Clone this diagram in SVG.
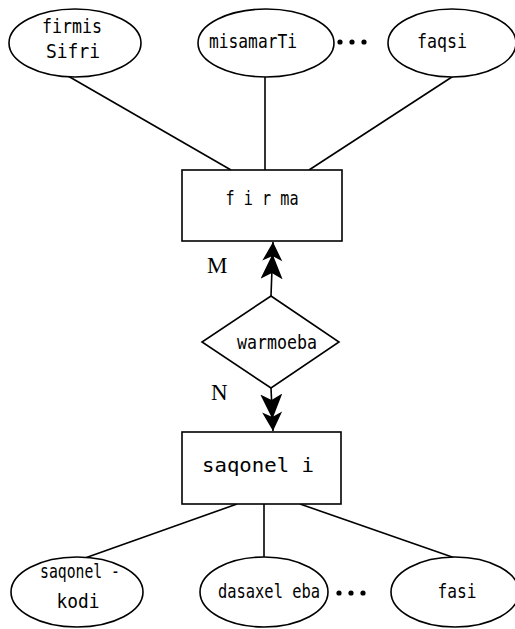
<svg xmlns="http://www.w3.org/2000/svg" width="515" height="629" viewBox="0 0 515 629">
<style>
.s{fill:#fff;stroke:#000;stroke-width:1.6}
.l{stroke:#000;stroke-width:1.6;fill:none}
.t{font-family:"DejaVu Sans Mono",monospace;font-size:20px;fill:#000;text-anchor:middle}
.r{font-family:"Liberation Serif",serif;font-size:23px;fill:#000}
</style>
<defs>
<marker id="dbl" viewBox="0 0 37 22" refX="37" refY="11" markerWidth="37" markerHeight="22" markerUnits="userSpaceOnUse" orient="auto">
<path d="M37,11 L18,1 L23,11 L18,21 Z M25,11 L0,0 L6,11 L0,22 Z" fill="#000"/>
</marker>
</defs>
<rect width="515" height="629" fill="#fff"/>
<g id="connectors">
<line class="l" x1="68" y1="76" x2="231" y2="170"/>
<line class="l" x1="265" y1="77" x2="265" y2="170"/>
<line class="l" x1="455" y1="75" x2="309" y2="170"/>
<line class="l" x1="271" y1="296" x2="273" y2="242" marker-end="url(#dbl)"/>
<line class="l" x1="271" y1="388" x2="273" y2="431" marker-end="url(#dbl)"/>
<line class="l" x1="237" y1="504" x2="85" y2="558"/>
<line class="l" x1="264" y1="504" x2="264" y2="557"/>
<line class="l" x1="300" y1="504" x2="455" y2="558"/>
</g>
<g id="firmis-Sifri"><ellipse class="s" cx="75" cy="43" rx="66" ry="34"/><text class="t" x="72" y="33" textLength="60" lengthAdjust="spacingAndGlyphs">firmis</text><text class="t" x="73" y="58" textLength="54" lengthAdjust="spacingAndGlyphs">Sifri</text></g>
<g id="misamarTi"><ellipse class="s" cx="266" cy="43" rx="68" ry="34"/><text class="t" x="253" y="48" font-size="18" textLength="88" lengthAdjust="spacingAndGlyphs">misamarTi</text></g>
<g id="dots1"><circle cx="340" cy="42" r="2.6"/><circle cx="352" cy="42" r="2.6"/><circle cx="364" cy="42" r="2.6"/></g>
<g id="faqsi"><ellipse class="s" cx="452" cy="43" rx="64" ry="34"/><text class="t" x="442" y="48" font-size="18" textLength="50" lengthAdjust="spacingAndGlyphs">faqsi</text></g>
<g id="firma"><rect class="s" x="182" y="170" width="160" height="71"/><text class="t" x="262" y="205" textLength="73" lengthAdjust="spacingAndGlyphs">f i r ma</text></g>
<g id="warmoeba"><polygon class="s" points="271,296 339,342 271,388 202,342"/><text class="t" x="277" y="349" font-size="18" textLength="80" lengthAdjust="spacingAndGlyphs">warmoeba</text></g>
<text class="r" x="207" y="273">M</text>
<text class="r" x="211" y="400">N</text>
<g id="saqoneli"><rect class="s" x="182" y="432" width="159" height="72"/><text class="t" x="258" y="472" textLength="112" lengthAdjust="spacingAndGlyphs">saqonel i</text></g>
<g id="saqonel-kodi"><ellipse class="s" cx="77" cy="592" rx="66" ry="35"/><text class="t" x="80" y="578" font-size="18" textLength="80" lengthAdjust="spacingAndGlyphs">saqonel -</text><text class="t" x="78" y="608" textLength="43" lengthAdjust="spacingAndGlyphs">kodi</text></g>
<g id="dasaxeleba"><ellipse class="s" cx="264" cy="592" rx="64" ry="35"/><text class="t" x="269" y="598" font-size="18" textLength="102" lengthAdjust="spacingAndGlyphs">dasaxel eba</text></g>
<g id="dots2"><circle cx="339" cy="593" r="2.6"/><circle cx="351" cy="593" r="2.6"/><circle cx="363" cy="593" r="2.6"/></g>
<g id="fasi"><ellipse class="s" cx="455" cy="592" rx="64" ry="35"/><text class="t" x="457" y="598" textLength="39" lengthAdjust="spacingAndGlyphs">fasi</text></g>
</svg>
